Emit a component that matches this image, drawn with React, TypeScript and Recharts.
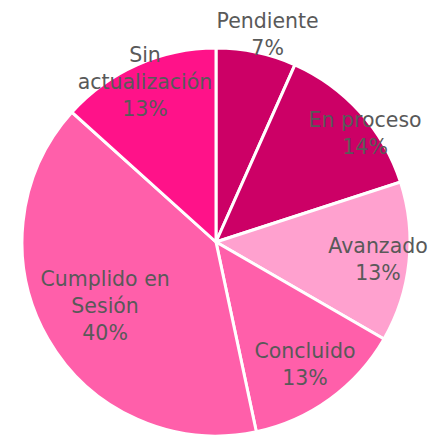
import { PieChart, Pie, Cell } from "recharts";

// estado de los asuntos (conteos; los % se muestran como en la fuente)
const categories = ["Pendiente", "En proceso", "Avanzado", "Concluido", "Cumplido en Sesión", "Sin actualización"];
const counts = [1, 2, 2, 2, 6, 2];
const percentLabels = ["7%", "14%", "13%", "13%", "40%", "13%"];

// how each name breaks onto lines in the label
const nameLines: string[][] = [
  ["Pendiente"],
  ["En proceso"],
  ["Avanzado"],
  ["Concluido"],
  ["Cumplido en", "Sesión"],
  ["Sin", "actualización"],
];

const COLORS = ["#CC0066", "#CC0066", "#FFA1CF", "#FF5FAA", "#FF5FAA", "#FF1289"];
// label placement: fraction of radius and angle nudge (deg), like Excel's best fit
const LABEL_RADIUS = [1.1, 0.95, 0.84, 0.78, 0.66, 0.9];
const LABEL_TURN = [-2, -6, 0, 0, 0, 0];
const LINE_H = 27;

const data = categories.map((name, i) => ({ name, value: counts[i], pct: percentLabels[i] }));

const RADIAN = Math.PI / 180;

// eslint-disable-next-line @typescript-eslint/no-explicit-any
function renderLabel(props: any) {
  const { cx, cy, midAngle, outerRadius, index } = props;
  const r = outerRadius * LABEL_RADIUS[index];
  const a = midAngle + LABEL_TURN[index];
  const x = cx + r * Math.cos(-a * RADIAN);
  const y = cy + r * Math.sin(-a * RADIAN);
  const lines = [...nameLines[index], percentLabels[index]];
  const top = y - ((lines.length - 1) * LINE_H) / 2;
  return (
    <text
      x={x}
      y={top}
      textAnchor="middle"
      dominantBaseline="central"
      fill="#595959"
      fontSize={20.5}
      fontFamily="'DejaVu Sans', sans-serif"
    >
      {lines.map((l, i) => (
        <tspan key={i} x={x} dy={i === 0 ? 0 : LINE_H}>
          {l}
        </tspan>
      ))}
    </text>
  );
}

export default function App() {
  return (
    <div style={{ position: "absolute", left: 0, top: 0, width: 438, height: 435, background: "#fff" }}>
      <PieChart width={438} height={435}>
        <Pie
          data={data}
          dataKey="value"
          nameKey="name"
          cx={211}
          cy={237}
          outerRadius={194}
          startAngle={90}
          endAngle={-270}
          stroke="#ffffff"
          strokeWidth={3}
          label={renderLabel}
          labelLine={false}
          isAnimationActive={false}
        >
          {data.map((d, i) => (
            <Cell key={d.name} fill={COLORS[i]} />
          ))}
        </Pie>
      </PieChart>
    </div>
  );
}
